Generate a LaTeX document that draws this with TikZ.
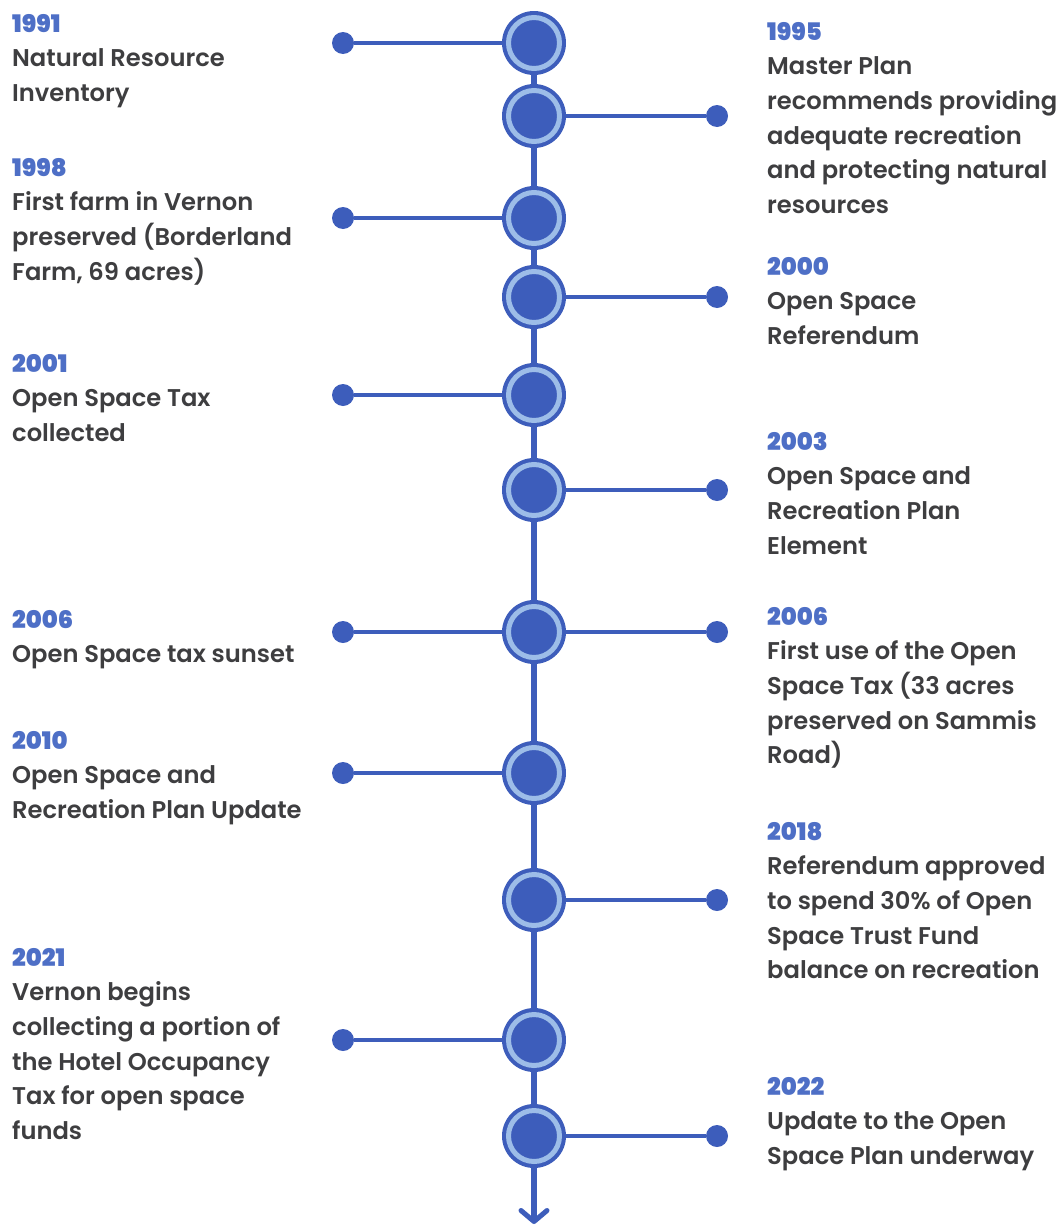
\documentclass[tikz,border=0pt]{standalone}
\usepackage{fontspec}
\setmainfont{Poppins}[BoldFont={Poppins SemiBold}]
\newfontfamily\yearfont{Poppins}[UprightFont={* ExtraBold}]
\usetikzlibrary{arrows.meta}
\definecolor{dk}{HTML}{3D5DBB}
\definecolor{lt}{HTML}{9DBDE8}
\definecolor{yr}{HTML}{4E6FC6}
\definecolor{tx}{HTML}{3E3E40}
\begin{document}
\begin{tikzpicture}[x=1pt,y=-1pt,
  hub/.style={circle,fill=dk,minimum size=64pt,inner sep=0pt,
    path picture={\draw[lt,line width=5pt] (path picture bounding box.center) circle (25.5pt);}},
  dot/.style={circle,fill=dk,minimum size=22pt,inner sep=0pt},
  conn/.style={dk,line width=4pt},
  spine/.style={dk,line width=6pt},
  entry/.style={anchor=base west,inner sep=0pt,text=tx,
    font=\fontsize{24.2}{34.7}\selectfont\bfseries},
]
\useasboundingbox (0,0) rectangle (1060,1226);
\newcommand{\yrs}[1]{{\yearfont\textcolor{yr}{#1}}}
\newcommand{\ent}[1]{\parbox[t]{300pt}{\raggedright #1}}
% hubs
\node[hub] (h1) at (534,43) {};
\node[hub] (h2) at (534,116) {};
\node[hub] (h3) at (534,218) {};
\node[hub] (h4) at (534,297) {};
\node[hub] (h5) at (534,395) {};
\node[hub] (h6) at (534,490) {};
\node[hub] (h7) at (534,632) {};
\node[hub] (h8) at (534,773) {};
\node[hub] (h9) at (534,900) {};
\node[hub] (h10) at (534,1040) {};
\node[hub] (h11) at (534,1136) {};
\coordinate (end) at (534,1224);
% dots
\node[dot] (l1) at (343,43) {};
\node[dot] (l3) at (343,218) {};
\node[dot] (l5) at (343,395) {};
\node[dot] (l7) at (343,632) {};
\node[dot] (l8) at (343,773) {};
\node[dot] (l10) at (343,1040) {};
\node[dot] (r2) at (717,116) {};
\node[dot] (r4) at (717,297) {};
\node[dot] (r6) at (717,490) {};
\node[dot] (r7) at (717,632) {};
\node[dot] (r9) at (717,900) {};
\node[dot] (r11) at (717,1136) {};
% spine
\draw[spine] (h1) -- (h2);
\draw[spine] (h2) -- (h3);
\draw[spine] (h3) -- (h4);
\draw[spine] (h4) -- (h5);
\draw[spine] (h5) -- (h6);
\draw[spine] (h6) -- (h7);
\draw[spine] (h7) -- (h8);
\draw[spine] (h8) -- (h9);
\draw[spine] (h9) -- (h10);
\draw[spine] (h10) -- (h11);
\draw[spine,-{Straight Barb[length=11pt,width=26pt,line width=5pt,round]}] (h11) -- (end);
% connectors
\draw[conn] (l1) -- (h1);
\draw[conn] (l3) -- (h3);
\draw[conn] (l5) -- (h5);
\draw[conn] (l7) -- (h7);
\draw[conn] (l8) -- (h8);
\draw[conn] (l10) -- (h10);
\draw[conn] (h2) -- (r2);
\draw[conn] (h4) -- (r4);
\draw[conn] (h6) -- (r6);
\draw[conn] (h7) -- (r7);
\draw[conn] (h9) -- (r9);
\draw[conn] (h11) -- (r11);
% left texts
\node[entry] (t1991) at (12,32) {\ent{\yrs{1991}\\Natural Resource\\Inventory}};
\node[entry] (t1998) at (12,176) {\ent{\yrs{1998}\\First farm in Vernon\\preserved (Borderland\\Farm, 69 acres)}};
\node[entry] (t2001) at (12,372) {\ent{\yrs{2001}\\Open Space Tax\\collected}};
\node[entry] (t2006a) at (12,628) {\ent{\yrs{2006}\\Open Space tax sunset}};
\node[entry] (t2010) at (12,749) {\ent{\yrs{2010}\\Open Space and\\Recreation Plan Update}};
\node[entry] (t2021) at (12,966) {\ent{\yrs{2021}\\Vernon begins\\collecting a portion of\\the Hotel Occupancy\\Tax for open space\\funds}};
% right texts
\node[entry] (t1995) at (767,40) {\ent{\yrs{1995}\\Master Plan\\recommends providing\\adequate recreation\\and protecting natural\\resources}};
\node[entry] (t2000) at (767,275) {\ent{\yrs{2000}\\Open Space\\Referendum}};
\node[entry] (t2003) at (767,450) {\ent{\yrs{2003}\\Open Space and\\Recreation Plan\\Element}};
\node[entry] (t2006b) at (767,625) {\ent{\yrs{2006}\\First use of the Open\\Space Tax (33 acres\\preserved on Sammis\\Road)}};
\node[entry] (t2018) at (767,840) {\ent{\yrs{2018}\\Referendum approved\\to spend 30\% of Open\\Space Trust Fund\\balance on recreation}};
\node[entry] (t2022) at (767,1095) {\ent{\yrs{2022}\\Update to the Open\\Space Plan underway}};
\end{tikzpicture}
\end{document}
